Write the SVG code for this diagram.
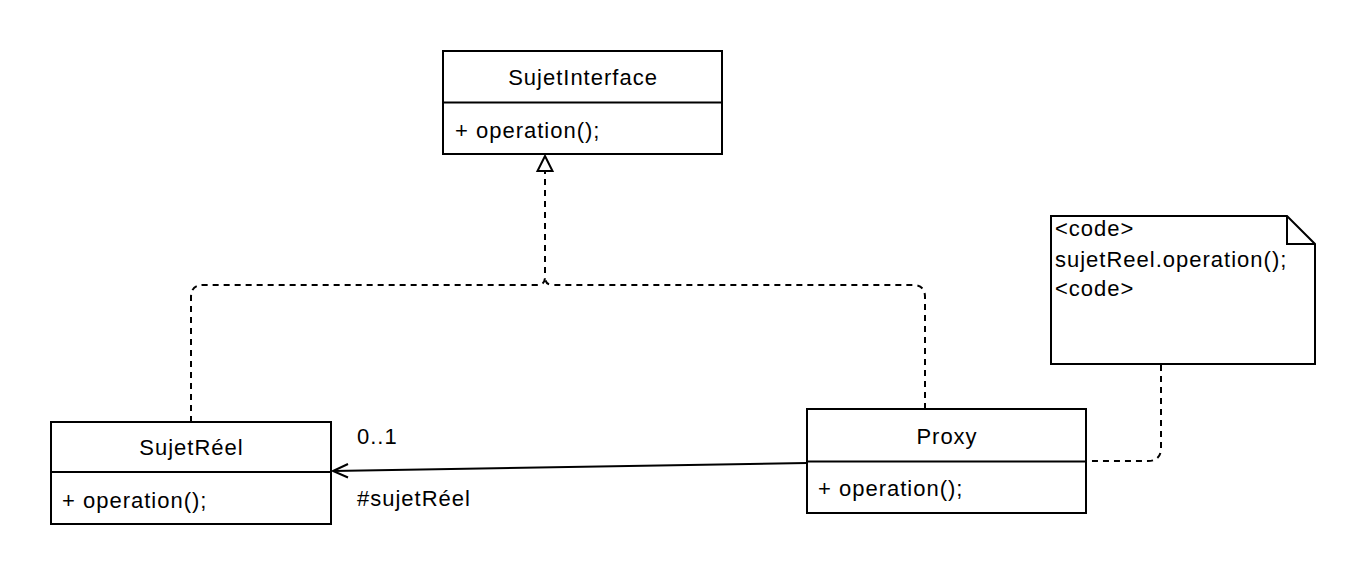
<svg xmlns="http://www.w3.org/2000/svg" width="1366" height="582" viewBox="0 0 1366 582">
  <defs>
    <style>
      .box { fill: #ffffff; stroke: #000000; stroke-width: 2; }
      .sep { fill: none; stroke: #000000; stroke-width: 2; }
      .dash { fill: none; stroke: #000000; stroke-width: 2; stroke-dasharray: 6 5; }
      .solid { fill: none; stroke: #000000; stroke-width: 2; }
      .hollow { fill: #ffffff; stroke: #000000; stroke-width: 2; }
      text { font-family: "Liberation Sans", Arial, sans-serif; font-size: 22px; letter-spacing: 1px; fill: #000000; }
      .c { text-anchor: middle; }
    </style>
  </defs>

  <rect width="1366" height="582" fill="#ffffff"/>

  <!-- connectors -->
  <g id="connectors">
    <!-- realization: SujetReel -> SujetInterface -->
    <path class="dash" d="M191 422 V297 Q191 285 203 285 H537 Q545 285 545 277 V171"/>
    <!-- realization: Proxy -> SujetInterface -->
    <path class="dash" d="M925 409 V297 Q925 285 913 285 H553 Q545 285 545 277"/>
    <path class="hollow" d="M545 156 L552.5 171 L537.5 171 Z"/>
    <!-- association Proxy -> SujetReel -->
    <path class="solid" d="M807 463 L333 471"/>
    <path class="solid" d="M348 464 L333 471 L348 477.5"/>
    <!-- note anchor -->
    <path class="dash" d="M1161 365 V448 Q1161 461 1148 461 H1087"/>
  </g>

  <!-- labels on the association -->
  <text x="357" y="444">0..1</text>
  <text x="357" y="506">#sujetRéel</text>

  <g id="SujetInterface">
    <rect class="box" x="443" y="51" width="279" height="103"/>
    <line class="sep" x1="443" y1="102.5" x2="722" y2="102.5"/>
    <text class="c" x="583" y="85">SujetInterface</text>
    <text x="455" y="138">+ operation();</text>
  </g>

  <g id="SujetReel">
    <rect class="box" x="51" y="422" width="280" height="102"/>
    <line class="sep" x1="51" y1="472" x2="331" y2="472"/>
    <text class="c" x="191.5" y="455">SujetRéel</text>
    <text x="62" y="508">+ operation();</text>
  </g>

  <g id="Proxy">
    <rect class="box" x="807" y="409" width="279" height="104"/>
    <line class="sep" x1="807" y1="461.5" x2="1086" y2="461.5"/>
    <text class="c" x="947" y="444">Proxy</text>
    <text x="818" y="496">+ operation();</text>
  </g>

  <g id="Note">
    <path class="box" d="M1051 216 H1287 L1315 244 V364 H1051 Z"/>
    <path class="sep" d="M1287 216 V244 H1315"/>
    <text x="1055" y="236">&lt;code&gt;</text>
    <text x="1055" y="267">sujetReel.operation();</text>
    <text x="1055" y="296">&lt;code&gt;</text>
  </g>
</svg>
